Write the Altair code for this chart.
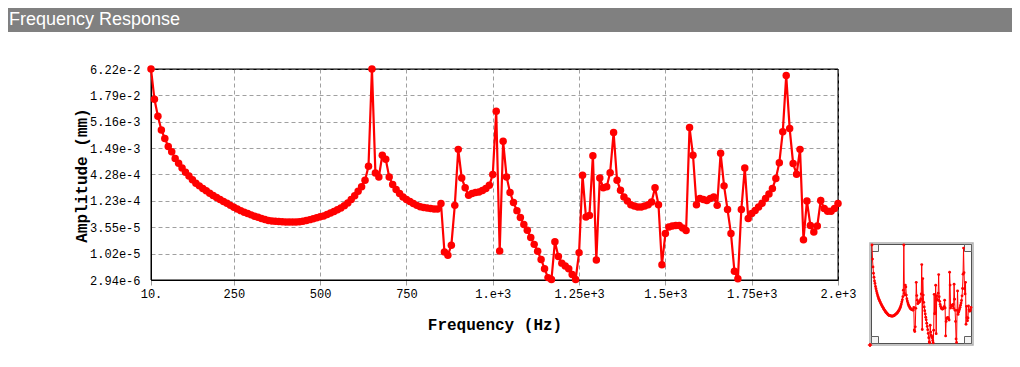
import altair as alt
import pandas as pd

# ---------------- data ----------------
freq = list(range(10, 2001, 10))  # Hz, 10 Hz sample grid
amplitude = [
    6.22e-2, 1.49e-2, 6.70e-3, 3.51e-3, 2.35e-3, 1.60e-3, 1.25e-3, 9.14e-4, 7.30e-4, 5.84e-4,
    4.78e-4, 3.97e-4, 3.33e-4, 2.84e-4, 2.50e-4, 2.21e-4, 1.98e-4, 1.77e-4, 1.58e-4, 1.45e-4,
    1.31e-4, 1.19e-4, 1.10e-4, 9.96e-5, 9.13e-5, 8.37e-5, 7.77e-5, 7.21e-5, 6.77e-5, 6.36e-5,
    5.98e-5, 5.69e-5, 5.35e-5, 5.09e-5, 4.90e-5, 4.78e-5, 4.72e-5, 4.66e-5, 4.60e-5, 4.55e-5,
    4.55e-5, 4.55e-5, 4.55e-5, 4.60e-5, 4.72e-5, 4.90e-5, 5.08e-5, 5.30e-5, 5.55e-5, 5.80e-5,
    6.05e-5, 6.44e-5, 6.94e-5, 7.48e-5, 8.06e-5, 8.80e-5, 9.84e-5, 1.11e-4, 1.31e-4, 1.56e-4,
    1.93e-4, 2.41e-4, 3.25e-4, 6.29e-4, 6.22e-2, 4.61e-4, 3.82e-4, 1.06e-3, 8.80e-4, 3.82e-4,
    2.66e-4, 2.10e-4, 1.74e-4, 1.48e-4, 1.31e-4, 1.19e-4, 1.09e-4, 9.96e-5, 9.36e-5, 9.02e-5,
    8.80e-5, 8.58e-5, 8.37e-5, 8.37e-5, 1.09e-4, 1.10e-5, 9.47e-6, 1.52e-5, 9.96e-5, 1.40e-3,
    3.64e-4, 2.29e-4, 1.60e-4, 1.74e-4, 1.83e-4, 1.88e-4, 2.00e-4, 2.21e-4, 2.57e-4, 4.28e-4,
    8.49e-3, 1.16e-5, 2.05e-3, 3.82e-4, 1.83e-4, 1.14e-4, 7.77e-5, 5.62e-5, 4.02e-5, 3.09e-5,
    2.18e-5, 1.58e-5, 1.14e-5, 7.76e-6, 5.02e-6, 3.29e-6, 3.01e-6, 1.79e-5, 8.90e-6, 6.52e-6,
    5.69e-6, 5.02e-6, 3.82e-6, 3.01e-6, 1.07e-5, 4.12e-4, 5.76e-5, 6.21e-5, 1.04e-3, 7.57e-6,
    3.64e-4, 2.29e-4, 2.41e-4, 4.67e-4, 3.09e-3, 3.25e-4, 2.03e-4, 1.48e-4, 1.22e-4, 1.03e-4,
    9.72e-5, 9.24e-5, 9.24e-5, 9.72e-5, 1.03e-4, 1.17e-4, 2.29e-4, 1.03e-4, 6.05e-6, 2.63e-5,
    3.59e-5, 3.77e-5, 3.87e-5, 3.87e-5, 3.41e-5, 3.05e-5, 3.92e-3, 1.06e-3, 1.03e-4, 1.38e-4,
    1.31e-4, 1.26e-4, 1.38e-4, 1.48e-4, 9.96e-5, 1.16e-3, 2.50e-4, 8.16e-5, 2.63e-5, 4.43e-6,
    3.13e-6, 8.16e-5, 5.84e-4, 5.35e-5, 6.77e-5, 7.86e-5, 9.24e-5, 1.10e-4, 1.38e-4, 1.70e-4,
    2.21e-4, 3.55e-4, 7.48e-4, 3.21e-3, 4.56e-2, 3.73e-3, 7.21e-4, 4.33e-4, 1.40e-3, 1.97e-5,
    1.22e-4, 3.87e-5, 2.83e-5, 3.77e-5, 1.26e-4, 8.58e-5, 7.58e-5, 7.58e-5, 8.58e-5, 1.09e-4,
]
x_tick_values = [10, 250, 500, 750, 1000, 1250, 1500, 1750, 2000]
x_tick_labels = ["10.", "250", "500", "750", "1.e+3", "1.25e+3", "1.5e+3", "1.75e+3", "2.e+3"]
y_tick_values = [2.94e-6, 1.02e-5, 3.55e-5, 1.23e-4, 4.28e-4, 1.49e-3, 5.16e-3, 1.79e-2, 6.22e-2]

header_text = "Frequency Response"
x_title = "Frequency (Hz)"
y_title = "Amplitude (mm)"

# ---------------- chart ----------------
df = pd.DataFrame({"f": freq, "a": amplitude})
one = pd.DataFrame({"k": [0]})

W, H = 687, 211
RED = "#ff0000"
MONO = "Liberation Mono"

x_expr = ""
for v, l in zip(x_tick_values, x_tick_labels):
    x_expr += f"datum.value == {v} ? '{l}' : "
x_expr += "''"

xs = alt.Scale(domain=[10, 2000], nice=False, zero=False)
ys = alt.Scale(type="log", domain=[y_tick_values[0], y_tick_values[-1]], nice=False)

x_axis = alt.Axis(
    values=x_tick_values, labelExpr=x_expr, grid=True, gridDash=[4, 3],
    gridColor="#a0a0a0", tickSize=5, tickColor="#a0a0a0", domainColor="black",
    labelFont=MONO, labelFontSize=12, labelColor="black", labelPadding=3,
    labelFlush=False, labelOverlap=False,
    title=x_title, titleFont=MONO, titleFontSize=16, titleFontWeight="bold",
    titleColor="black", titleY=44, titleBaseline="middle",
)
y_axis = alt.Axis(
    values=y_tick_values, format=".2e", grid=True, gridDash=[4, 3],
    gridColor="#a0a0a0", ticks=False, domainColor="black",
    labelFont=MONO, labelFontSize=12, labelColor="black", labelPadding=11,
    labelFlush=False, labelOverlap=False,
    title=y_title, titleFont=MONO, titleFontSize=16, titleFontWeight="bold",
    titleColor="black", titleAngle=270, titleX=-70, titleY=106,
    titleBaseline="middle", titleAlign="center",
)

# solid frame drawn over the dashed grid (but beneath the data)
frame = alt.Chart(one).mark_rect(fill=None, stroke="black", strokeWidth=1).encode(
    x=alt.value(0), x2=alt.value(W), y=alt.value(0), y2=alt.value(H)
)

main_line = alt.Chart(df).mark_line(color=RED, strokeWidth=2.2).encode(
    x=alt.X("f:Q", scale=xs, axis=x_axis),
    y=alt.Y("a:Q", scale=ys, axis=y_axis),
)
main_pts = alt.Chart(df).mark_point(filled=True, shape="circle", size=56, color=RED, opacity=1).encode(
    x="f:Q", y="a:Q"
)
main = alt.layer(main_line, main_pts)

# header band
band = alt.Chart(one).mark_rect(color="#808080").encode(
    x=alt.value(-143), x2=alt.value(861), y=alt.value(-61), y2=alt.value(-37)
)
head = alt.Chart(one).mark_text(
    text=header_text, align="left", baseline="alphabetic",
    font="Liberation Sans", fontSize=18, color="white"
).encode(x=alt.value(-142), y=alt.value(-44))

# overview thumbnail
box_outer = alt.Chart(one).mark_rect(fill="white", stroke="#b0b0b0", strokeWidth=1.5).encode(
    x=alt.value(719), x2=alt.value(822), y=alt.value(174), y2=alt.value(276)
)
box_inner = alt.Chart(one).mark_rect(fill="white", stroke="#505050", strokeWidth=1).encode(
    x=alt.value(720.5), x2=alt.value(820.5), y=alt.value(175.5), y2=alt.value(274.5)
)
corners = []
for cx, cy in [(720.5, 175.5), (813.5, 175.5), (720.5, 267.5), (813.5, 267.5)]:
    corners.append(
        alt.Chart(one).mark_rect(fill="#f4f4f4", stroke="#606060", strokeWidth=1).encode(
            x=alt.value(cx), x2=alt.value(cx + 7), y=alt.value(cy), y2=alt.value(cy + 7)
        )
    )

tx = alt.Scale(domain=[10, 2000], range=[721, 820], nice=False, zero=False)
ty = alt.Scale(type="log", domain=[y_tick_values[0], y_tick_values[-1]], range=[274, 176], nice=False)
thumb_line = alt.Chart(df).mark_line(color=RED, strokeWidth=1).encode(
    x=alt.X("f:Q", scale=tx, axis=None),
    y=alt.Y("a:Q", scale=ty, axis=None),
)
thumb_pts = alt.Chart(df).mark_point(filled=True, shape="circle", size=8, color=RED, opacity=1).encode(
    x="f:Q", y="a:Q"
)
thumb = alt.layer(thumb_line, thumb_pts)

cross = alt.Chart(one).mark_point(shape="cross", size=18, color=RED, filled=True, opacity=1).encode(
    x=alt.value(719), y=alt.value(276)
)

chart = alt.layer(
    band, head, frame, main, box_outer, box_inner, *corners, thumb, cross
).resolve_scale(
    x="independent", y="independent"
).properties(
    width=W, height=H,
    autosize=alt.AutoSizeParams(type="none"),
    padding={"left": 143, "top": 61, "right": 174, "bottom": 75},
    background="white",
).configure_view(
    stroke="black", strokeWidth=1
)

chart.save("out.html", embed_options={"renderer": "svg", "actions": False})
